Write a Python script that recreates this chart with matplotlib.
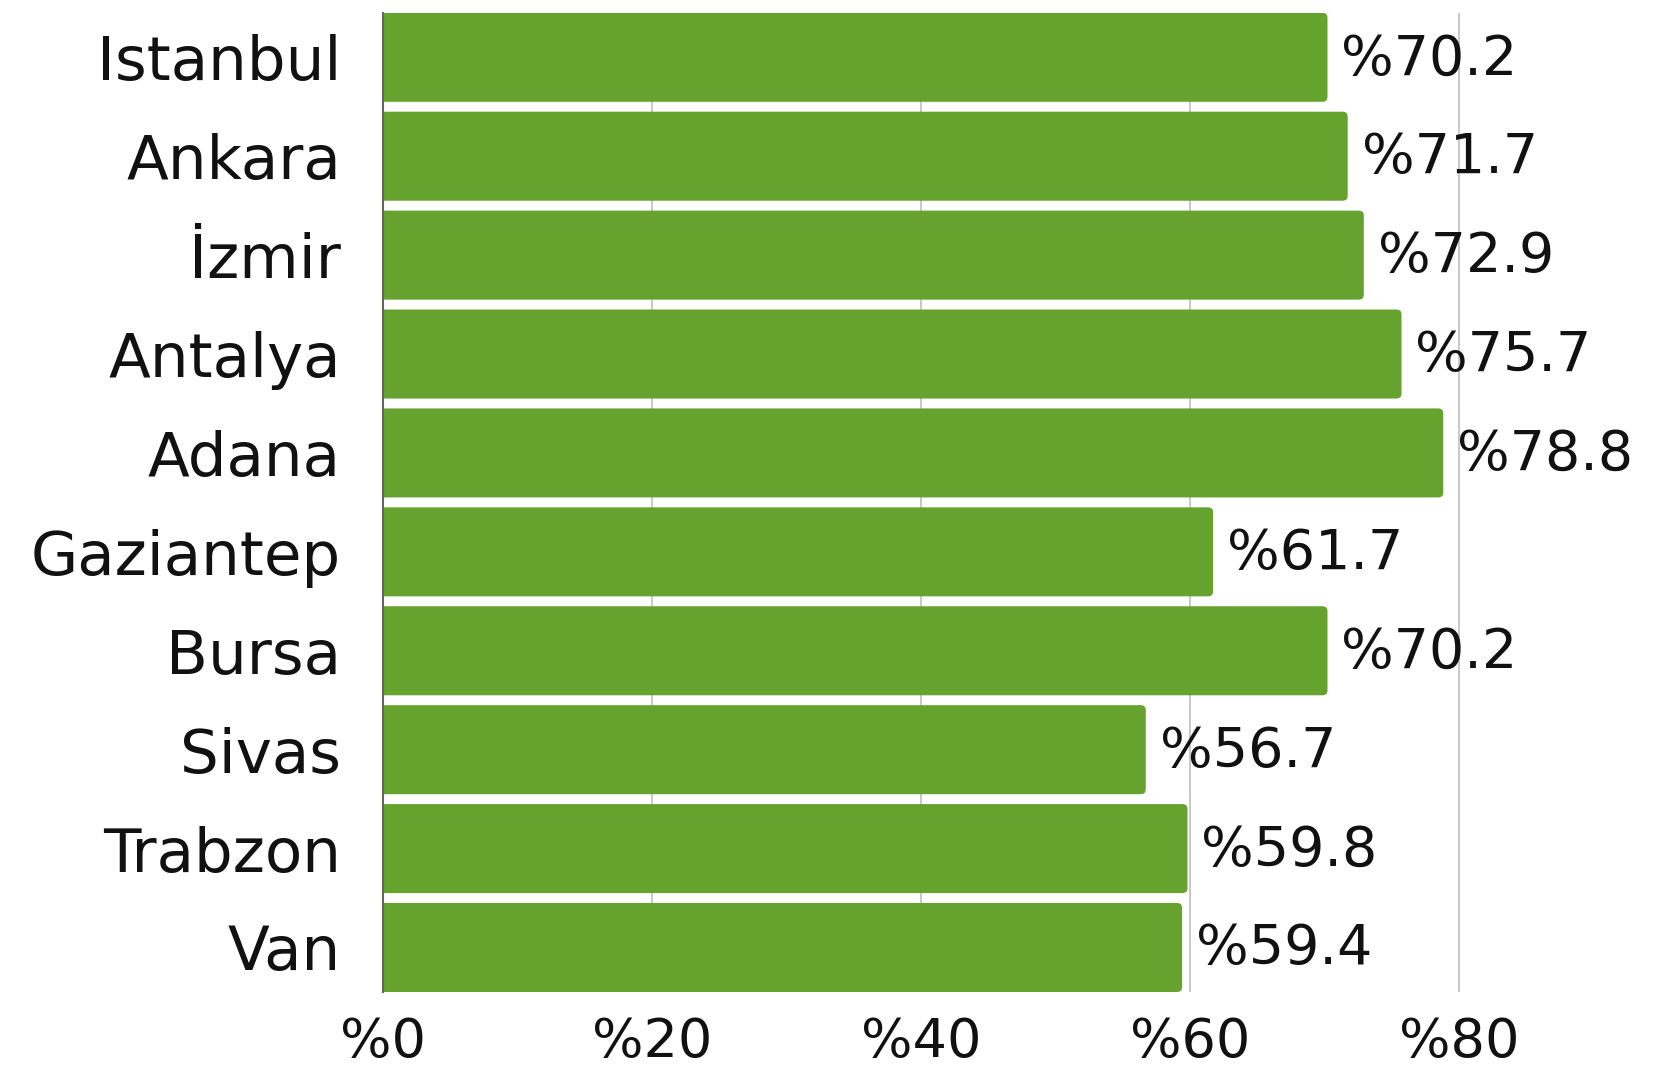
import matplotlib
matplotlib.use("Agg")
import matplotlib.pyplot as plt
from matplotlib.patches import FancyBboxPatch

cities = ["Istanbul", "Ankara", "İzmir", "Antalya", "Adana", "Gaziantep", "Bursa", "Sivas", "Trabzon", "Van"]
values = [70.2, 71.7, 72.9, 75.7, 78.8, 61.7, 70.2, 56.7, 59.8, 59.4]
xticks = [0, 20, 40, 60, 80]
xtick_labels = ["%0", "%20", "%40", "%60", "%80"]

plt.rcParams['font.family'] = ['DejaVu Sans']
W, H = 1676, 1069
fig = plt.figure(figsize=(W / 100, H / 100), dpi=100)
left, right, top, bottom = 382.6, 1594, 12.8, 992
ax = fig.add_axes([left / W, 1 - bottom / H, (right - left) / W, (bottom - top) / H])

color = "#65A22E"
bh = 0.9
xmax = 90
ax.set_xlim(0, xmax)
ax.set_ylim(len(cities) - 0.5 - (1 - bh) / 2, -0.5 + (1 - bh) / 2)

# scale conversions for rounding
px_x = xmax / (right - left)
px_y = (len(cities) - (1 - bh)) / (bottom - top)
rs = 5 * px_x
aspect = px_y / px_x

for i, v in enumerate(values):
    p = FancyBboxPatch((-2, i - bh / 2), v + 2, bh,
                       boxstyle=f"round,pad=0,rounding_size={rs}",
                       mutation_aspect=aspect, facecolor=color, edgecolor="none",
                       zorder=2)
    ax.add_patch(p)
    ax.annotate(f"%{v:.1f}", xy=(v, i + 0.02), xytext=(10, 0), textcoords="offset points",
                va="center", ha="left", fontsize=40, color="#111111")

ax.set_yticks(range(len(cities)))
ax.set_yticklabels(cities, fontsize=44, color="#111111")
ax.set_xticks(xticks)
ax.set_xticklabels(xtick_labels, fontsize=39, color="#111111")
ax.tick_params(axis="y", length=0, pad=30)
ax.tick_params(axis="x", length=0, pad=17)
ax.grid(axis="x", color="#C4C4C4", linewidth=1.3, zorder=0)
ax.set_axisbelow(True)
for s in ["top", "right", "bottom"]:
    ax.spines[s].set_visible(False)
ax.spines["left"].set_color("#666666")
ax.spines["left"].set_linewidth(1.5)
ax.spines["left"].set_zorder(3)

fig.savefig("out.png", dpi=100)
